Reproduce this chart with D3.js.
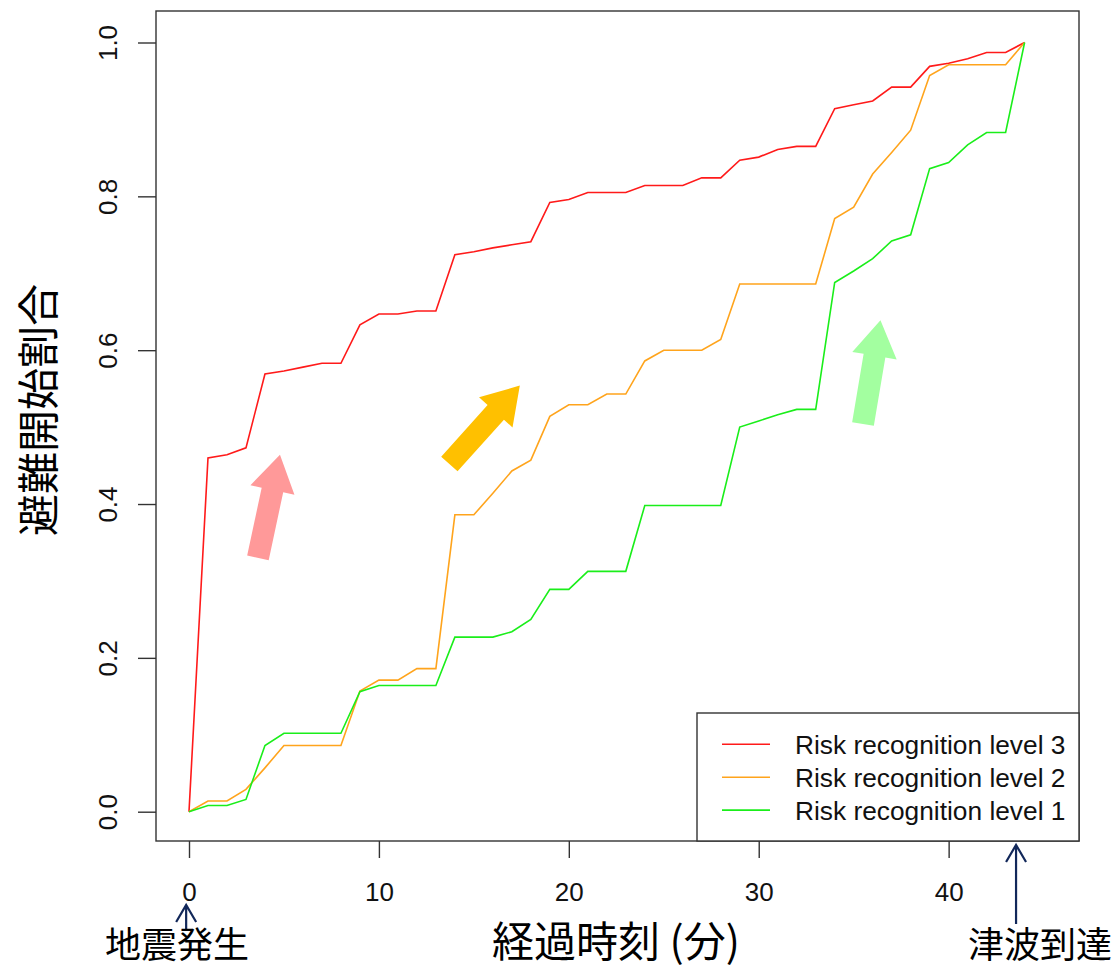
<!DOCTYPE html>
<html>
<head>
<meta charset="utf-8">
<script src="https://cdn.jsdelivr.net/npm/d3@7"></script>
<style>
  html, body { margin: 0; padding: 0; background: #fff; }
  svg { display: block; }
</style>
</head>
<body>
<svg id="chart" width="1117" height="967"></svg>
<script>
// Elapsed minutes since the earthquake
const minutes = [0, 1, 2, 3, 4, 5, 6, 7, 8, 9, 10, 11, 12, 13, 14, 15, 16, 17, 18, 19, 20, 21,
  22, 23, 24, 25, 26, 27, 28, 29, 30, 31, 32, 33, 34, 35, 36, 37, 38, 39, 40, 41, 42, 43, 44];

// Cumulative share of people who have started evacuating
const level3 = [0, 0.46, 0.464, 0.473, 0.569, 0.573, 0.578, 0.583, 0.583, 0.633, 0.647, 0.647,
  0.651, 0.651, 0.724, 0.728, 0.733, 0.737, 0.741, 0.792, 0.796, 0.805, 0.805, 0.805, 0.814,
  0.814, 0.814, 0.824, 0.824, 0.847, 0.851, 0.861, 0.865, 0.865, 0.914, 0.919, 0.924, 0.942,
  0.942, 0.969, 0.973, 0.979, 0.987, 0.987, 1.0];
const level2 = [0, 0.014, 0.014, 0.029, 0.057, 0.086, 0.086, 0.086, 0.086, 0.157, 0.171, 0.171,
  0.186, 0.186, 0.386, 0.386, 0.414, 0.443, 0.457, 0.514, 0.529, 0.529, 0.543, 0.543, 0.586,
  0.600, 0.600, 0.600, 0.614, 0.686, 0.686, 0.686, 0.686, 0.686, 0.771, 0.786, 0.829, 0.857,
  0.886, 0.957, 0.971, 0.971, 0.971, 0.971, 1.0];
const level1 = [0, 0.008, 0.008, 0.016, 0.086, 0.102, 0.102, 0.102, 0.102, 0.156, 0.164, 0.164,
  0.164, 0.164, 0.227, 0.227, 0.227, 0.234, 0.25, 0.289, 0.289, 0.3125, 0.3125, 0.3125, 0.398,
  0.398, 0.398, 0.398, 0.398, 0.5, 0.508, 0.516, 0.523, 0.523, 0.688, 0.703, 0.719, 0.742,
  0.75, 0.836, 0.844, 0.867, 0.883, 0.883, 1.0];

const seriesNames = ["Risk recognition level 3", "Risk recognition level 2", "Risk recognition level 1"];
const seriesColors = ["#ff1a1a", "#ffa41c", "#1aee1a"];

const xTicks = [0, 10, 20, 30, 40];
const yTicks = [0.0, 0.2, 0.4, 0.6, 0.8, 1.0];

const xTitle = "経過時刻 (分)";
const yTitle = "避難開始割合";
const quakeLabel = "地震発生";
const tsunamiLabel = "津波到達";
const quakeMinute = -0.15;
const tsunamiMinute = 43.55;

// Trend arrows: [tail minute, tail share, tip minute, tip share]
const trendArrows = [
  [3.63, 0.330, 4.79, 0.464],
  [13.71, 0.452, 17.42, 0.554],
  [35.49, 0.504, 36.41, 0.639]
];
const trendColors = ["#ff9999", "#ffc000", "#a3ffa0"];

const latin = "'Liberation Sans', Arial, sans-serif";
const cjk = "'Noto Sans CJK JP', 'Noto Sans', sans-serif";

const svg = d3.select("#chart");
const box = { left: 156, top: 11, right: 1079, bottom: 841 };

const x = d3.scaleLinear().domain([0, 44]).range([189, 1024.6]);
const y = d3.scaleLinear().domain([0, 1]).range([811.7, 42.5]);

// Trend arrows (block arrows behind the lines)
const shaftW = 22, headW = 45, headL = 36;
trendArrows.forEach((a, i) => {
  const x0 = x(a[0]), y0 = y(a[1]), x1 = x(a[2]), y1 = y(a[3]);
  const dx = x1 - x0, dy = y1 - y0, len = Math.hypot(dx, dy);
  const ux = dx / len, uy = dy / len, nx = -uy, ny = ux;
  const bx = x1 - ux * headL, by = y1 - uy * headL;
  const p = (px, py, w) => [px + nx * w, py + ny * w];
  const pts = [
    p(x0, y0, shaftW / 2), p(bx, by, shaftW / 2), p(bx, by, headW / 2),
    [x1, y1],
    p(bx, by, -headW / 2), p(bx, by, -shaftW / 2), p(x0, y0, -shaftW / 2)
  ];
  svg.append("polygon")
    .attr("points", pts.map(d => d.join(",")).join(" "))
    .attr("fill", trendColors[i]);
});

// Series lines
const line = d3.line().x((d, i) => x(minutes[i])).y(d => y(d));
[level3, level2, level1].forEach((vals, i) => {
  svg.append("path")
    .attr("d", line(vals))
    .attr("fill", "none")
    .attr("stroke", seriesColors[i])
    .attr("stroke-width", 1.6)
    .attr("stroke-linejoin", "miter");
});

// Plot frame
svg.append("rect")
  .attr("x", box.left).attr("y", box.top)
  .attr("width", box.right - box.left).attr("height", box.bottom - box.top)
  .attr("fill", "none").attr("stroke", "#333").attr("stroke-width", 1.4);

// Y axis
const yAxis = svg.append("g").attr("transform", `translate(${box.left},0)`)
  .call(d3.axisLeft(y).tickValues(yTicks).tickSize(18).tickFormat(d3.format(".1f")));
yAxis.select(".domain").remove();
yAxis.selectAll(".tick line").attr("stroke", "#333").attr("stroke-width", 1.4);
yAxis.selectAll(".tick text")
  .attr("font-family", latin).attr("font-size", 26).attr("fill", "#111")
  .attr("text-anchor", "middle").attr("dy", null)
  .attr("x", null).attr("y", null)
  .attr("transform", "translate(-39.5,0) rotate(-90)");

// X axis
const xAxis = svg.append("g").attr("transform", `translate(0,${box.bottom})`)
  .call(d3.axisBottom(x).tickValues(xTicks).tickSize(17).tickFormat(d3.format("d")));
xAxis.select(".domain").remove();
xAxis.selectAll(".tick line").attr("stroke", "#333").attr("stroke-width", 1.4);
xAxis.selectAll(".tick text")
  .attr("font-family", latin).attr("font-size", 26).attr("fill", "#111")
  .attr("dy", null).attr("y", 60);

// Axis titles
svg.append("text")
  .attr("transform", "translate(35,410) rotate(-90)")
  .attr("text-anchor", "middle").attr("dominant-baseline", "central")
  .attr("font-family", cjk).attr("font-size", 42).attr("fill", "#000")
  .text(yTitle);
svg.append("text")
  .attr("x", 616).attr("y", 938)
  .attr("text-anchor", "middle").attr("dominant-baseline", "central")
  .attr("font-family", cjk).attr("font-size", 42).attr("fill", "#000")
  .text(xTitle);

// Event markers below the axis
const navy = "#12285a";
function eventArrow(px, yTop, yBottom) {
  svg.append("path")
    .attr("d", `M${px},${yBottom} L${px},${yTop} M${px - 10},${yTop + 17} L${px},${yTop} L${px + 10},${yTop + 17}`)
    .attr("fill", "none").attr("stroke", navy).attr("stroke-width", 2.2);
}
eventArrow(x(quakeMinute), 905, 930);
eventArrow(x(tsunamiMinute), 845, 924);

svg.append("text")
  .attr("x", 177).attr("y", 942)
  .attr("text-anchor", "middle").attr("dominant-baseline", "central")
  .attr("font-family", cjk).attr("font-size", 36).attr("fill", "#000")
  .text(quakeLabel);
svg.append("text")
  .attr("x", 1040).attr("y", 942)
  .attr("text-anchor", "middle").attr("dominant-baseline", "central")
  .attr("font-family", cjk).attr("font-size", 36).attr("fill", "#000")
  .text(tsunamiLabel);

// Legend
const lg = svg.append("g");
lg.append("rect")
  .attr("x", 697).attr("y", 713).attr("width", box.right - 697).attr("height", box.bottom - 713)
  .attr("fill", "#fff").attr("stroke", "#333").attr("stroke-width", 1.4);
seriesNames.forEach((name, i) => {
  const cy = 744.3 + i * 32.9;
  lg.append("line")
    .attr("x1", 722).attr("x2", 770).attr("y1", cy).attr("y2", cy)
    .attr("stroke", seriesColors[i]).attr("stroke-width", 1.6);
  lg.append("text")
    .attr("x", 795).attr("y", cy + 9.6)
    .attr("font-family", latin).attr("font-size", 26.3).attr("fill", "#111")
    .text(name);
});
</script>
</body>
</html>
